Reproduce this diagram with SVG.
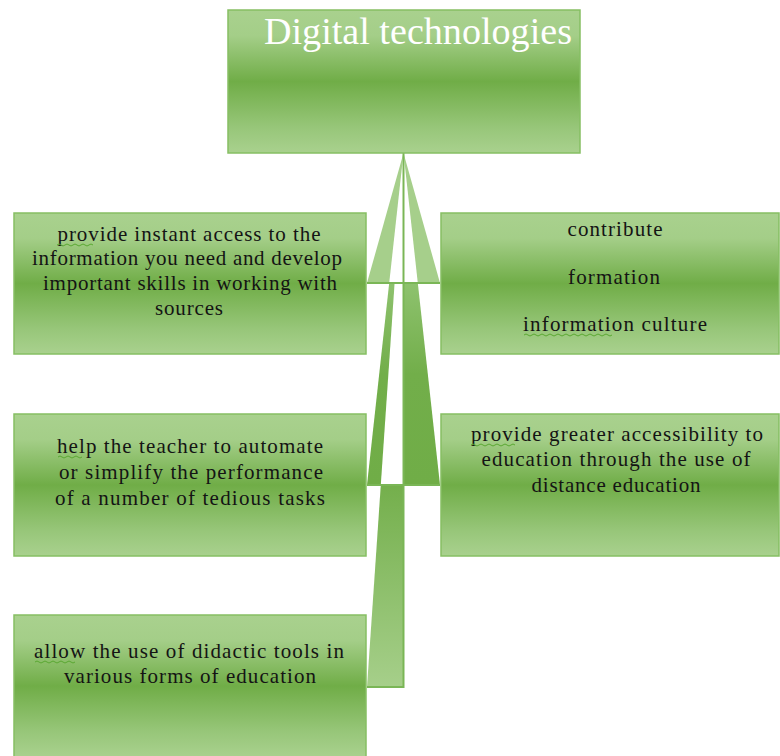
<svg xmlns="http://www.w3.org/2000/svg" width="780" height="756" viewBox="0 0 780 756">
<defs>
<linearGradient id="box" x1="0" y1="0" x2="0" y2="1">
<stop offset="0" stop-color="#a9d18e"/>
<stop offset="0.18" stop-color="#a4ce88"/>
<stop offset="0.5" stop-color="#70ad47"/>
<stop offset="0.82" stop-color="#97c679"/>
<stop offset="1" stop-color="#a9d18e"/>
</linearGradient>
<linearGradient id="seg2" gradientUnits="userSpaceOnUse" x1="0" y1="283" x2="0" y2="485">
<stop offset="0" stop-color="#8ec26e"/>
<stop offset="0.45" stop-color="#72ae4a"/>
<stop offset="1" stop-color="#70ad47"/>
</linearGradient>
<linearGradient id="seg3" gradientUnits="userSpaceOnUse" x1="0" y1="485" x2="0" y2="687">
<stop offset="0" stop-color="#74af4c"/>
<stop offset="1" stop-color="#a6cf8a"/>
</linearGradient>
</defs>
<style>
.box{fill:url(#box);stroke:#86bf63;stroke-width:1.5}
.t{font-family:"Liberation Serif","Times New Roman",serif;font-size:21px;fill:#141414;text-anchor:middle}
.title{font-family:"Liberation Serif","Times New Roman",serif;font-size:38px;fill:#ffffff}
.ln{stroke:#7ab656;stroke-width:2;fill:none}
.sq{stroke:#5aa832;stroke-width:1;fill:none}
</style>

<g id="connectors">
<polygon points="403.5,153 367,283 389.2,283" fill="#a6cf8b"/>
<polygon points="403.5,153 440,283 417.8,283" fill="#a6cf8b"/>
<polygon points="389.2,283 394.6,283 380.8,485 367,485" fill="url(#seg2)"/>
<polygon points="403.5,283 417.8,283 440,485 403.5,485" fill="url(#seg2)"/>
<polygon points="380.8,485 403.5,485 403.5,687 367,687" fill="url(#seg3)"/>
<line class="ln" x1="403.5" y1="153" x2="403.5" y2="283"/>
<line class="ln" x1="367" y1="283" x2="440" y2="283"/>
<line class="ln" x1="367" y1="485" x2="440" y2="485"/>
<line class="ln" x1="403.5" y1="283" x2="403.5" y2="485"/>
<polyline class="ln" points="403.5,485 403.5,687 367,687"/>
</g>

<g id="top">
<rect class="box" x="228" y="10" width="352" height="143"/>
<text class="title" x="264" y="44" textLength="308" lengthAdjust="spacingAndGlyphs">Digital technologies</text>
</g>

<g id="left1">
<rect class="box" x="14" y="213" width="352" height="141"/>
<text class="t" x="189" y="241" textLength="263" lengthAdjust="spacing">provide instant access to the</text>
<text class="t" x="187" y="265" textLength="310" lengthAdjust="spacing">information you need and develop</text>
<text class="t" x="190" y="290" textLength="294" lengthAdjust="spacing">important skills in working with</text>
<text class="t" x="189" y="315" textLength="68" lengthAdjust="spacing">sources</text>
<path class="sq" d="M57,245 q2,-2 4,0 t4,0 t4,0 t4,0 t4,0 t4,0 t4,0 t4,0 t4,0"/>
</g>

<g id="right1">
<rect class="box" x="441" y="213" width="338" height="141"/>
<text class="t" x="615" y="236" textLength="95" lengthAdjust="spacing">contribute</text>
<text class="t" x="614" y="284" textLength="92" lengthAdjust="spacing">formation</text>
<text class="t" x="615" y="331" textLength="184" lengthAdjust="spacing">information culture</text>
<path class="sq" d="M524,335 q2,-2 4,0 t4,0 t4,0 t4,0 t4,0 t4,0 t4,0 t4,0 t4,0 t4,0 t4,0 t4,0 t4,0 t4,0 t4,0 t4,0 t4,0 t4,0 t4,0 t4,0 t4,0 t4,0"/>
</g>

<g id="left2">
<rect class="box" x="14" y="414" width="352" height="142"/>
<text class="t" x="190" y="453" textLength="266" lengthAdjust="spacing">help the teacher to automate</text>
<text class="t" x="191" y="479" textLength="264" lengthAdjust="spacing">or simplify the performance</text>
<text class="t" x="190" y="505" textLength="270" lengthAdjust="spacing">of a number of tedious tasks</text>
<path class="sq" d="M58,457 q2,-2 4,0 t4,0 t4,0 t4,0 t4,0 t4,0"/>
</g>

<g id="right2">
<rect class="box" x="441" y="414" width="338" height="142"/>
<text class="t" x="617" y="441" textLength="292" lengthAdjust="spacing">provide greater accessibility to</text>
<text class="t" x="616" y="466" textLength="269" lengthAdjust="spacing">education through the use of</text>
<text class="t" x="616" y="492" textLength="169" lengthAdjust="spacing">distance education</text>
<path class="sq" d="M471,445 q2,-2 4,0 t4,0 t4,0 t4,0 t4,0 t4,0 t4,0 t4,0 t4,0 t4,0 t4,0"/>
</g>

<g id="left3">
<rect class="box" x="14" y="615" width="352" height="142"/>
<text class="t" x="189" y="658" textLength="310" lengthAdjust="spacing">allow the use of didactic tools in</text>
<text class="t" x="190" y="683" textLength="252" lengthAdjust="spacing">various forms of education</text>
<path class="sq" d="M35,662 q2,-2 4,0 t4,0 t4,0 t4,0 t4,0 t4,0 t4,0 t4,0 t4,0 t4,0"/>
</g>
</svg>
